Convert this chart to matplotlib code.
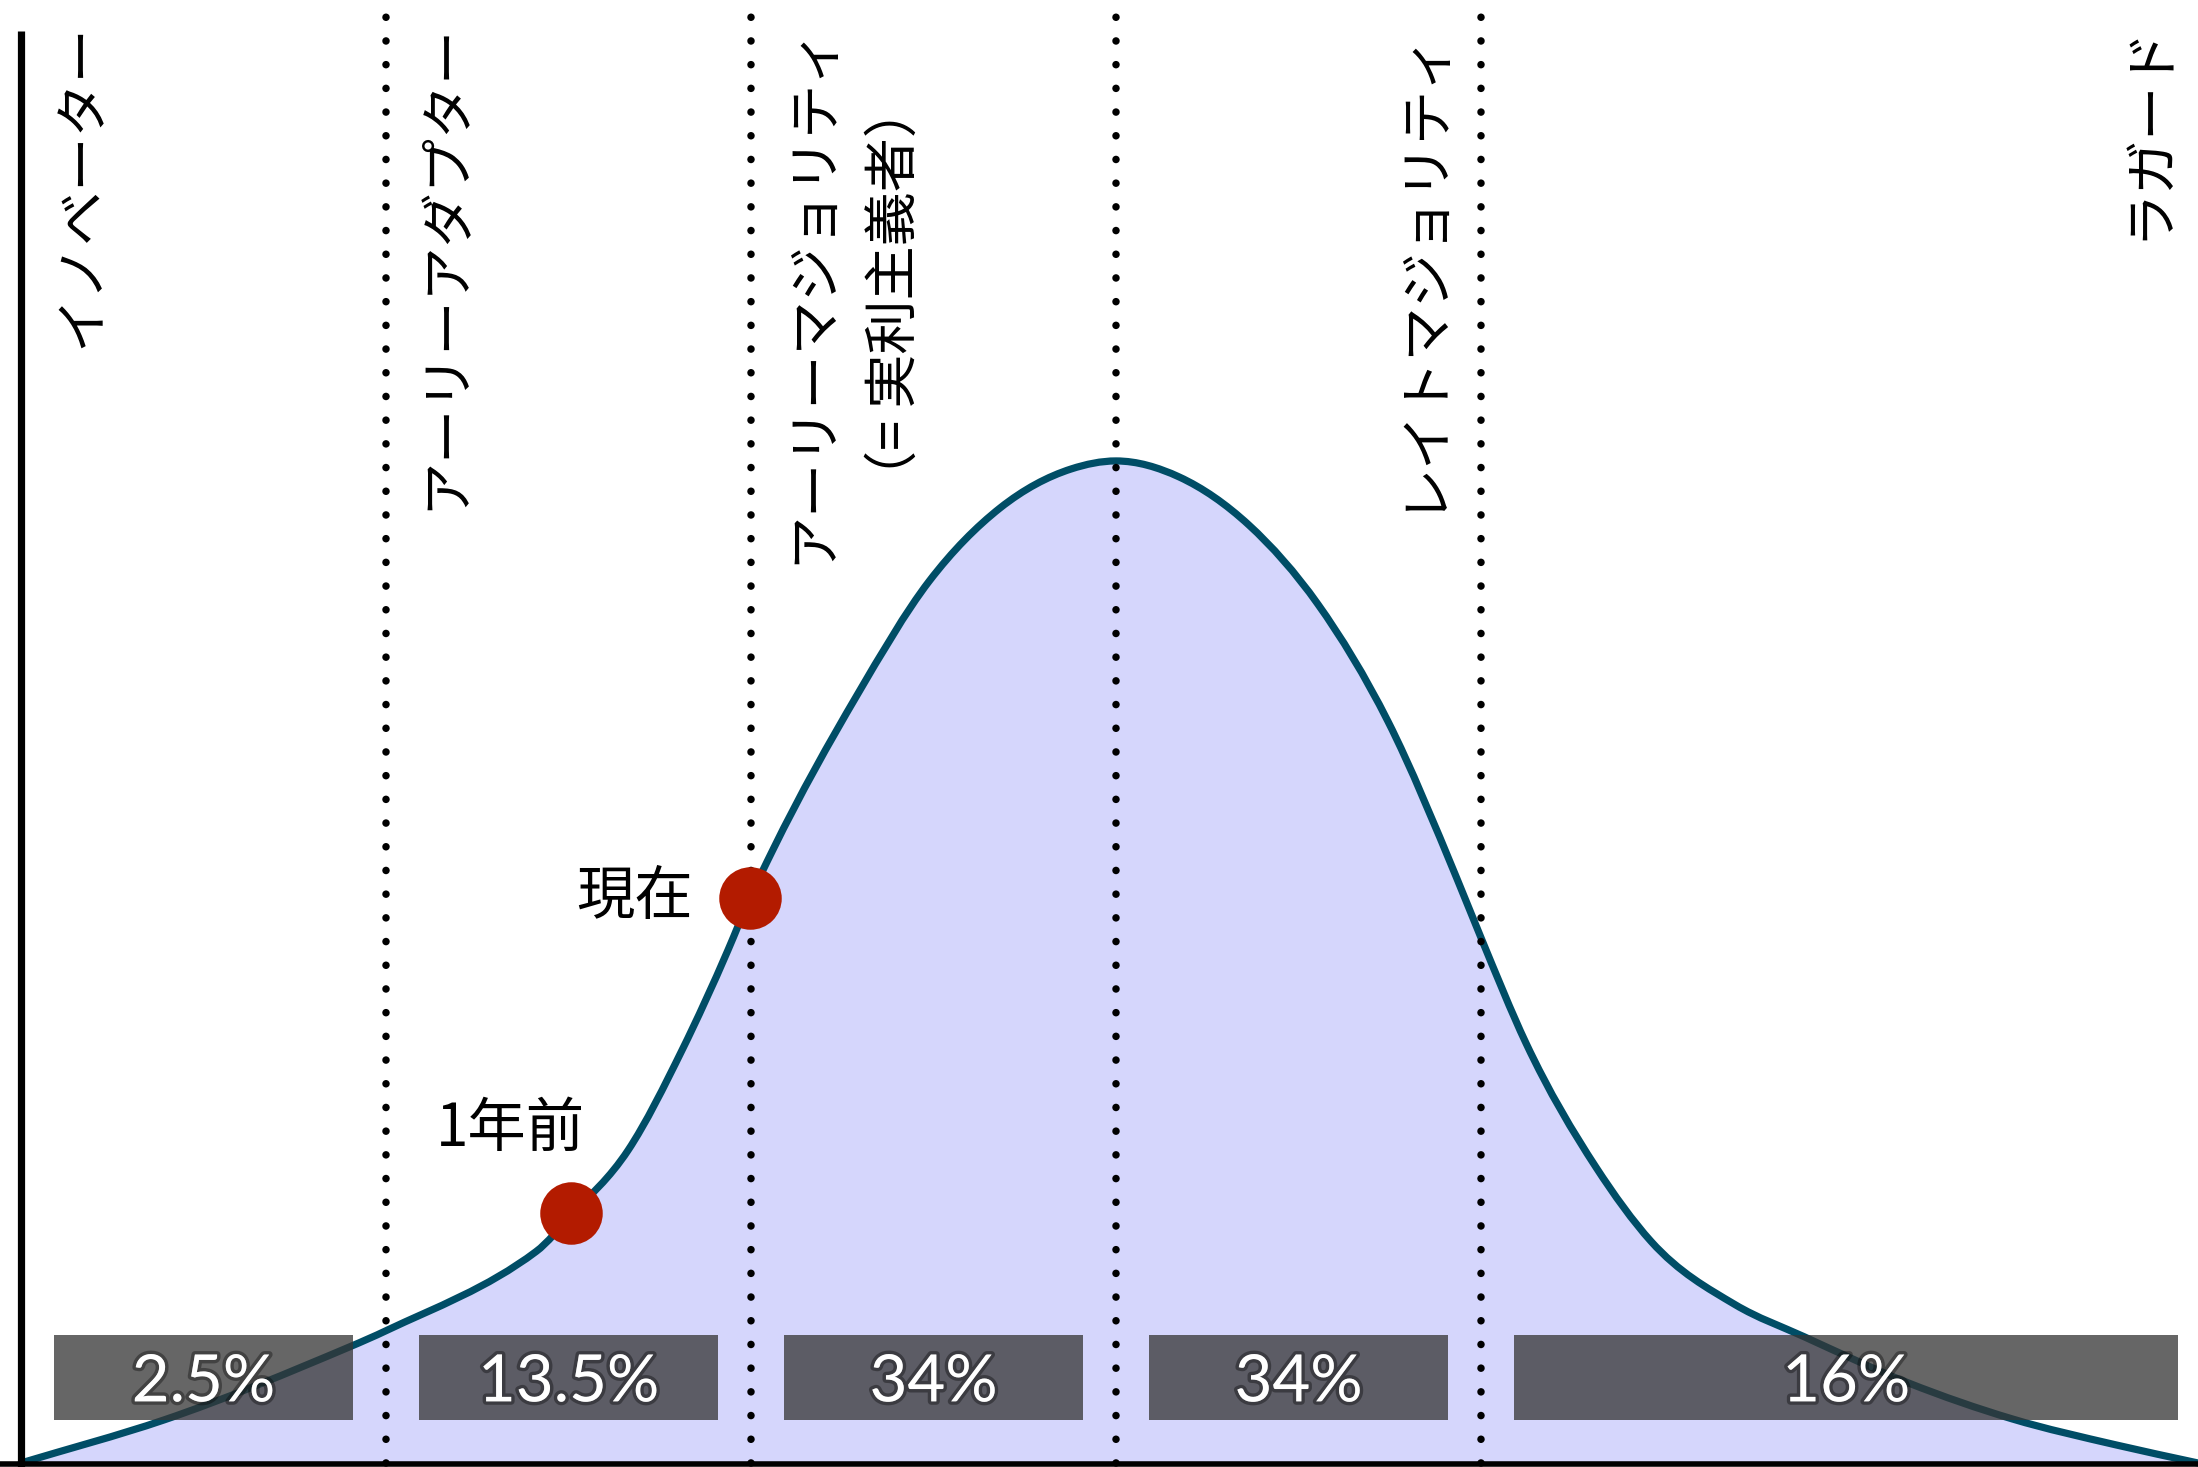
import matplotlib
matplotlib.use("Agg")
import matplotlib.pyplot as plt
import numpy as np
from matplotlib.path import Path
from matplotlib.patches import PathPatch, Rectangle
import matplotlib.patheffects as pe

# ---------------- data ----------------
# adoption curve (x in sigma units, y relative to peak)
curve_x = [-3.000, -2.608, -2.099, -2.000, -1.589, -1.493, -1.337, -1.189, -1.063,
           -1.003, -0.940, -0.710, -0.512, -0.318, -0.123, 0.000, 0.173, 0.364,
           0.553, 0.745, 0.934, 1.000, 1.123, 1.315, 1.466, 1.696, 1.885, 2.170,
           2.455, 2.740, 2.964]
curve_y = [0.000, 0.043, 0.116, 0.132, 0.211, 0.247, 0.312, 0.412, 0.512,
           0.564, 0.612, 0.766, 0.880, 0.953, 0.992, 1.000, 0.984, 0.936,
           0.857, 0.740, 0.583, 0.524, 0.419, 0.295, 0.221, 0.158, 0.126, 0.080,
           0.044, 0.018, 0.000]

boundaries = [-2, -1, 0, 1]
segment_edges = [-3, -2, -1, 0, 1, 3]
segment_labels = ["2.5%", "13.5%", "34%", "34%", "16%"]

categories = ["イノベーター", "アーリーアダプター",
              "アーリーマジョリティ\n（= 実利主義者）",
              "レイトマジョリティ", "ラガード"]
category_x = [-2.833, -1.836, -0.718, 0.830, 2.830]

points_label = ["1年前", "現在"]
points_x = [-1.493, -1.003]
points_y = [0.2495, 0.564]

# ---------------- style ----------------
FILL = "#D5D6FC"
LINE = "#004D66"
DOT = "#B31B00"
JP = ["Noto Sans CJK JP", "DejaVu Sans"]

fig = plt.figure(figsize=(21.98, 14.67), dpi=100)
ax = fig.add_axes([0, 0, 1, 1])
ax.set_xlim(-3.0575, 2.964)
ax.set_ylim(-0.004, 1.460)
ax.axis("off")

# smooth cubic bezier y(x) through the read points
# (3-point tangents; monotone-limited on the tail left of the "1年前" marker,
#  where the drawn curve bends sharply)
X = np.asarray(curve_x, float)
Y = np.asarray(curve_y, float)
n = len(X)
h = np.diff(X)
s = np.diff(Y) / h
m = np.zeros(n)
m[0] = s[0]
m[-1] = s[-1]
for i in range(1, n - 1):
    a, b = s[i - 1], s[i]
    m[i] = (h[i - 1] * b + h[i] * a) / (h[i - 1] + h[i])
    if X[i] < points_x[0] and a * b > 0:
        w1 = 2 * h[i] + h[i - 1]
        w2 = h[i] + 2 * h[i - 1]
        m[i] = (w1 + w2) / (w1 / a + w2 / b)
verts = [(X[0], Y[0])]
codes = [Path.MOVETO]
for i in range(n - 1):
    d = h[i] / 3.0
    verts += [(X[i] + d, Y[i] + m[i] * d),
              (X[i + 1] - d, Y[i + 1] - m[i + 1] * d),
              (X[i + 1], Y[i + 1])]
    codes += [Path.CURVE4] * 3

line_path = Path(verts, codes)
fill_verts = verts + [(X[-1], 0), (X[0], 0), (X[0], 0)]
fill_codes = codes + [Path.LINETO, Path.LINETO, Path.CLOSEPOLY]
ax.add_patch(PathPatch(Path(fill_verts, fill_codes), facecolor=FILL,
                       edgecolor="none", zorder=1))
ax.add_patch(PathPatch(line_path, facecolor="none", edgecolor=LINE,
                       lw=5.2, zorder=2, capstyle="round"))

# dotted boundaries
for b in boundaries:
    ax.plot([b, b], [0, 1.443], color="black", lw=5.4,
            dashes=(0.01, 3.15), dash_capstyle="round", zorder=3)

# axes lines
ax.plot([-3.0, -3.0], [-0.004, 1.429], color="black", lw=5.2,
        solid_capstyle="butt", zorder=3)
ax.plot([-3.06, 2.97], [-0.0015, -0.0015], color="black", lw=4.0, zorder=3)

# percentage boxes
inset = 0.09
for i, lab in enumerate(segment_labels):
    x0 = segment_edges[i] + inset
    x1 = segment_edges[i + 1] - inset
    ax.add_patch(Rectangle((x0, 0.043), x1 - x0, 0.085, facecolor="#363636",
                           alpha=0.76, edgecolor="none", zorder=4))
    ax.text((x0 + x1) / 2, 0.080, lab, ha="center", va="center",
            color="white", fontsize=47, family=["Lato", "DejaVu Sans"],
            zorder=5,
            path_effects=[pe.withStroke(linewidth=5, foreground=(0, 0, 0, 0.35))])

# vertical category labels
for cx, name in zip(category_x, categories):
    ax.text(cx, 1.437, name, rotation=90, ha="center", va="top",
            fontsize=39, family=JP, color="black", multialignment="center",
            linespacing=1.62, zorder=5)

# red markers
ax.plot(points_x, points_y, "o", ms=45, color=DOT, mec="none", zorder=6)
ax.text(points_x[1] - 0.155, points_y[1], points_label[1], ha="right",
        va="center", fontsize=42, family=JP, color="black", zorder=6)
ax.text(points_x[0] - 0.165, points_y[0] + 0.083, points_label[0], ha="center",
        va="center", fontsize=42, family=JP, color="black", zorder=6)

fig.savefig("out.png", dpi=100)
